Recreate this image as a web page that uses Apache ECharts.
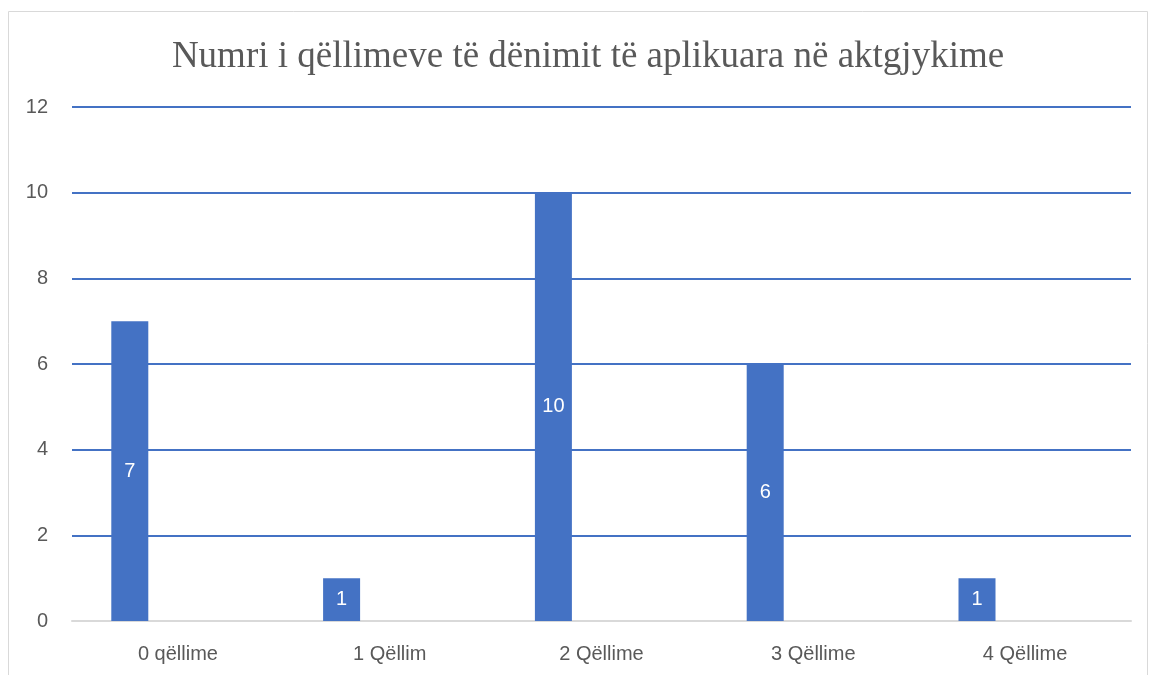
<!DOCTYPE html>
<html>
<head>
    <meta charset="utf-8">
    <title>Numri i qëllimeve</title>
    <script src="https://cdn.jsdelivr.net/npm/echarts@6/dist/echarts.min.js"></script>
    <style>
        html, body { margin: 0; padding: 0; background: #fff; }
        #chart { width: 1149px; height: 675px; }
    </style>
</head>
<body>
<div id="chart"></div>
<script type="text/javascript">
    // te dhenat
    var categories = ['0 qëllime', '1 Qëllim', '2 Qëllime', '3 Qëllime', '4 Qëllime'];
    var counts = [7, 1, 10, 6, 1];
    // seri bosh qe mbajne vendin (si ne Excel)
    var emptyA = [null, null, null, null, null];
    var emptyB = [null, null, null, null, null];
    var yTicks = [0, 2, 4, 6, 8, 10, 12];

    var labelFont = '"Liberation Sans", Arial, sans-serif';
    var myChart = echarts.init(document.getElementById('chart'));
    myChart.setOption({
        animation: false,
        title: {
            text: 'Numri i qëllimeve të dënimit të aplikuara në aktgjykime',
            left: 583,
            textAlign: 'center',
            top: 34,
            textStyle: {
                fontFamily: '"Liberation Serif", "Times New Roman", serif',
                fontSize: 37,
                fontWeight: 'normal',
                color: '#595959'
            }
        },
        graphic: [{
            type: 'rect',
            silent: true,
            shape: { x: 8.5, y: 11.5, width: 1139, height: 700 },
            style: { fill: 'none', stroke: '#d9d9d9', lineWidth: 1 }
        }],
        grid: { left: 72, right: 18, top: 107, bottom: 54 },
        xAxis: {
            type: 'category',
            data: categories,
            axisTick: { show: false },
            axisLine: { lineStyle: { color: '#d9d9d9', width: 2 } },
            axisLabel: { color: '#595959', fontSize: 20, fontFamily: labelFont, margin: 23 }
        },
        yAxis: {
            type: 'value',
            min: yTicks[0],
            max: yTicks[yTicks.length - 1],
            interval: 2,
            axisLine: { show: false },
            axisTick: { show: false },
            axisLabel: { color: '#595959', fontSize: 20, fontFamily: labelFont, margin: 24 },
            splitLine: { showMinLine: false, lineStyle: { color: '#4472C4', width: 2 } }
        },
        series: [
            {
                type: 'bar',
                data: counts,
                barWidth: 37,
                barGap: '30%',
                itemStyle: { color: '#4472C4' },
                label: {
                    show: true,
                    position: 'inside',
                    color: '#ffffff',
                    fontSize: 20,
                    fontFamily: labelFont
                }
            },
            { type: 'bar', data: emptyA, barWidth: 37, barGap: '30%' },
            { type: 'bar', data: emptyB, barWidth: 37, barGap: '30%' }
        ]
    });
</script>
</body>
</html>
